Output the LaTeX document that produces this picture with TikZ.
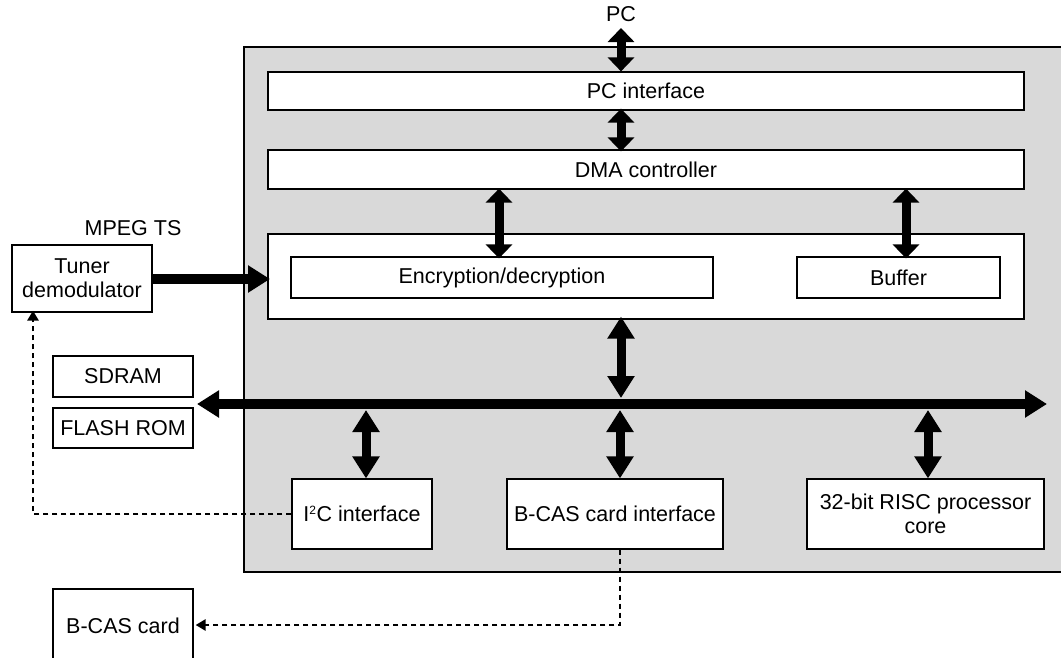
\documentclass[tikz,border=0pt]{standalone}
\usepackage{fontspec}
\setmainfont{Liberation Sans}
\usetikzlibrary{arrows.meta}
\definecolor{chipgray}{RGB}{217,217,217}
\tikzset{
  box/.style={draw=black, line width=1.2pt, fill=white, inner sep=0pt, align=center, font=\fontsize{21.5}{24}\selectfont},
  lbl/.style={inner sep=0pt, font=\fontsize{21.5}{24}\selectfont},
  fatarrow/.style={line width=9pt, {Triangle[width=26pt,length=14pt]}-{Triangle[width=26pt,length=14pt]}},
  longarrow/.style={line width=9pt, {Triangle[width=26pt,length=22pt]}-{Triangle[width=26pt,length=22pt]}},
  busarrow/.style={line width=10pt, {Triangle[width=26pt,length=22pt]}-{Triangle[width=26pt,length=22pt]}},
  feedarrow/.style={line width=10pt, -{Triangle[width=26pt,length=22pt]}},
  dotarrow/.style={line width=2.8pt, dash pattern=on 5pt off 4pt, -{Triangle[width=11pt,length=10pt]}}
}
\begin{document}
\begin{tikzpicture}[x=1pt,y=-1pt]
\useasboundingbox (0,0) rectangle (1061,657);
% chip background
\fill[chipgray] (244,47) rectangle (1075,572);
\draw[line width=1.2pt] (1075,47) -- (244,47) -- (244,572) -- (1075,572);

% boxes
\node[box, minimum width=756pt, minimum height=38pt] (pcif) at (646,91) {PC interface};
\node[box, minimum width=756pt, minimum height=39pt] (dma) at (646,169.5) {DMA controller};
\node[box, minimum width=756pt, minimum height=85pt] (inner) at (646,276.5) {};
\node[box, minimum width=422pt, minimum height=41pt] (enc) at (502,277.5) {Encryption/decryption};
\node[box, minimum width=203pt, minimum height=41pt] (buf) at (898.5,277.5) {Buffer};
\node[box, minimum width=140pt, minimum height=67pt] (tuner) at (82,278.5) {Tuner\\demodulator};
\node[box, minimum width=140pt, minimum height=41pt] (sdram) at (123,376.5) {SDRAM};
\node[box, minimum width=140pt, minimum height=40pt] (flash) at (123,428) {FLASH ROM};
\node[box, minimum width=140pt, minimum height=70pt] (i2c) at (362,514) {I\textsuperscript{\fontsize{12}{12}\selectfont 2}C interface};
\node[box, minimum width=216pt, minimum height=70pt] (bcasif) at (615,514) {B-CAS card interface};
\node[box, minimum width=237pt, minimum height=70pt] (risc) at (925.5,514) {32-bit RISC processor\\core};
\node[box, minimum width=140pt, minimum height=74pt] (bcas) at (123,626) {B-CAS card};

% labels
\node[lbl] (pc) at (621,14) {PC};
\node[lbl] (mpeg) at (133,228) {MPEG TS};

% bus coordinates
\coordinate (busL) at (197,404);
\coordinate (busR) at (1047,404);
\coordinate (pcTop) at (621,28);
\coordinate (busTapEnc) at (621,398);
\coordinate (tapI2C) at (366,410);
\coordinate (tapB) at (620,410);
\coordinate (tapR) at (928,410);
\coordinate (tunerIn) at (270,279);

% fat connectors
\draw[fatarrow] (pcTop) -- (pcTop |- pcif.north);
\draw[fatarrow] ([yshift=2pt]pcTop |- pcif.south) -- ([yshift=-2pt]pcTop |- dma.north);
\draw[fatarrow] ([yshift=1pt]499,0 |- dma.south) -- ([yshift=-2pt]499,0 |- enc.north);
\draw[fatarrow] ([yshift=1pt]906,0 |- dma.south) -- ([yshift=-2pt]906,0 |- buf.north);
\draw[longarrow] ([yshift=3pt]busTapEnc |- inner.south) -- (busTapEnc);
\draw[busarrow] (busL) -- (busR);
\draw[longarrow] (tapI2C) -- (tapI2C |- i2c.north);
\draw[longarrow] (tapB) -- (tapB |- bcasif.north);
\draw[longarrow] (tapR) -- (tapR |- risc.north);
\draw[feedarrow] (tuner.east |- tunerIn) -- (tunerIn);

% dotted control lines
\coordinate (dotCornerA) at (33,514);
\coordinate (dotCornerB) at (620,625);
\draw[dotarrow] (i2c.west) -- (dotCornerA) -- ([yshift=2pt]dotCornerA |- tuner.south);
\draw[dotarrow] (dotCornerB |- bcasif.south) -- (dotCornerB) -- ([xshift=2pt]bcas.east |- dotCornerB);
\end{tikzpicture}
\end{document}
